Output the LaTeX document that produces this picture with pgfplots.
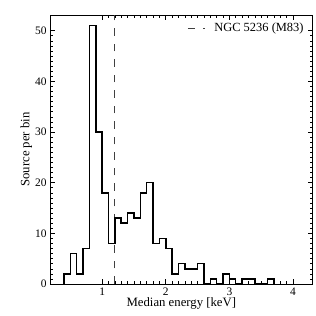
\documentclass[border=0pt]{standalone}
\usepackage{pgfplots}
\pgfplotsset{compat=1.18}
\usepackage{fontspec}
\setmainfont{Liberation Serif}
\begin{document}
\begin{tikzpicture}
\begin{axis}[
  scale only axis,
  width=262.7bp, height=269bp,
  xmin=0.18, xmax=4.31, ymin=0, ymax=53.1,
  xtick={1,2,3,4}, ytick={0,10,20,30,40,50},
  minor x tick num=9, minor y tick num=9,
  tick align=inside, ticks=both,
  xtick pos=both, ytick pos=both,
  major tick length=5bp, minor tick length=2.5bp,
  axis line style={line width=1bp},
  every tick/.style={black, line width=0.6bp},
  tick label style={font=\fontsize{11.5}{13}\selectfont},
  every axis label/.append style={font=\fontsize{12.8}{15}\selectfont},
  /pgf/number format/assume math mode=true,
  xlabel={Median energy [keV]},
  ylabel={Source per bin},
  xlabel style={yshift=4bp},
  ylabel style={yshift=-4bp},
  legend style={draw=none, fill=none, at={(0.985,0.985)}, anchor=north east,
    font=\fontsize{12.5}{15}\selectfont, legend cell align=left},
  legend image code/.code={\draw[#1] (0bp,0bp) -- (17bp,0bp); \path (24bp,0bp);},
]
\addplot[black!75, line width=0.8bp, dash pattern=on 7.5bp off 8bp] coordinates {(1.19,0) (1.19,53.1)};
\addlegendentry{NGC 5236 (M83)}
\addplot[black, line width=1.5bp, const plot mark left, forget plot] coordinates {
(0.4,0)(0.4,2)(0.5,6)(0.6,2)(0.7,7)(0.8,51)(0.9,30)(1.0,18)(1.1,8)(1.2,13)(1.3,12)(1.4,14)(1.5,13)(1.6,18)(1.7,20)(1.8,8)(1.9,9)(2.0,7)(2.1,2)(2.2,4)(2.3,3)(2.4,3)(2.5,4)(2.6,0)(2.7,1)(2.8,0)(2.9,2)(3.0,1)(3.1,0)(3.2,1)(3.3,1)(3.4,0)(3.5,0)(3.6,1)(3.7,0)(3.7,0)
};
\end{axis}
\pgfresetboundingbox
\path[use as bounding box] (-50bp,-32bp) rectangle (266bp,284bp);
\end{tikzpicture}
\end{document}
